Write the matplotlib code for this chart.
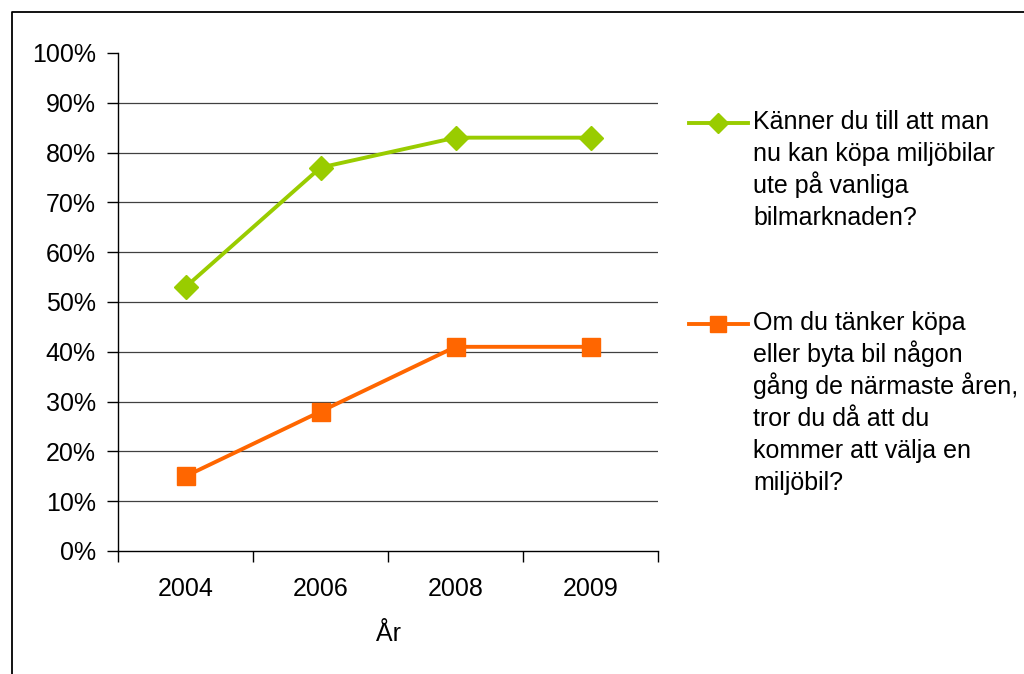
import matplotlib
matplotlib.use("Agg")
import matplotlib.pyplot as plt
from matplotlib.lines import Line2D
from matplotlib.ticker import FixedLocator, PercentFormatter

plt.rcParams['font.family'] = ['Liberation Sans', 'DejaVu Sans']

years = ["2004", "2006", "2008", "2009"]
aware = [53, 77, 83, 83]
choose = [15, 28, 41, 41]
label_aware = ["Känner du till att man", "nu kan köpa miljöbilar", "ute på vanliga",
               "bilmarknaden?"]
label_choose = ["Om du tänker köpa", "eller byta bil någon", "gång de närmaste åren,",
                "tror du då att du", "kommer att välja en", "miljöbil?"]
xlabel = "År"

GREEN = "#99CC00"
ORANGE = "#FF6600"

W, H = 1024, 674
fig = plt.figure(figsize=(W / 100, H / 100), dpi=100)

def fx(px):
    return px / W

def fy(py):
    return 1 - py / H

ax = fig.add_axes([fx(118), fy(551), fx(658) - fx(118), fy(53) - fy(551)])

x = list(range(len(years)))
ax.plot(x, aware, color=GREEN, lw=2.8, marker="D", ms=12.5, zorder=3)
ax.plot(x, choose, color=ORANGE, lw=2.8, marker="s", ms=13.5, zorder=3)

ax.set_xlim(-0.5, len(years) - 0.5)
ax.set_ylim(0, 100)
ax.set_yticks(range(0, 101, 10))
ax.yaxis.set_major_formatter(PercentFormatter(decimals=0))
for v in range(10, 100, 10):
    ax.axhline(v, color="#404040", lw=0.9, zorder=1)

ax.set_xticks(x)
ax.set_xticklabels(years)
ax.xaxis.set_minor_locator(FixedLocator([i - 0.5 for i in range(len(years) + 1)]))
ax.tick_params(axis="x", which="major", length=0, pad=19, labelsize=18)
ax.tick_params(axis="x", which="minor", length=8, width=1.0, color="black")
ax.tick_params(axis="y", length=8, width=1.0, pad=8, labelsize=18, color="black")

for s in ["top", "right"]:
    ax.spines[s].set_visible(False)
for s in ["left", "bottom"]:
    ax.spines[s].set_color("black")
    ax.spines[s].set_linewidth(1.0)

ax.set_xlabel(xlabel, fontsize=18, labelpad=15)

# legend
for (ly, by, col, mk, ms, lines) in [(123, 129, GREEN, "D", 12.5, label_aware),
                                     (324, 330, ORANGE, "s", 13.5, label_choose)]:
    fig.add_artist(Line2D([fx(689), fx(748)], [fy(ly), fy(ly)], color=col, lw=2.8))
    fig.add_artist(Line2D([fx(718)], [fy(ly)], color=col, marker=mk, ms=ms * 0.85, lw=0))
    for i, line in enumerate(lines):
        fig.text(fx(753), fy(by + 32 * i), line, fontsize=18, va="baseline", ha="left")

# outer frame
fig.add_artist(Line2D([fx(12), fx(12), fx(1030)], [fy(680), fy(12), fy(12)],
                      color="black", lw=1.3))

fig.savefig("out.png", dpi=100)
